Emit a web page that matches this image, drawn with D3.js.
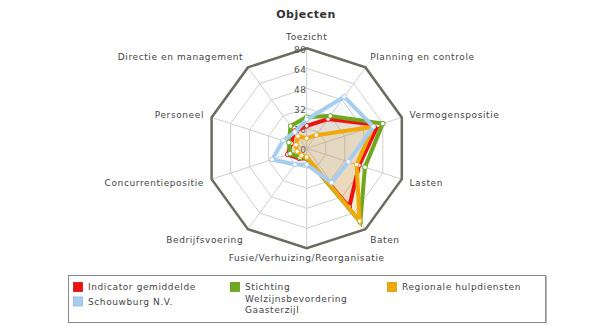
<!DOCTYPE html>
<html>
<head>
<meta charset="utf-8">
<script src="https://cdn.jsdelivr.net/npm/d3@7"></script>
<style>
html,body{margin:0;padding:0;background:#fff;}
svg{display:block;font-family:"DejaVu Sans",Verdana,sans-serif;}
</style>
</head>
<body>
<svg id="chart" width="613" height="336"></svg>
<script>
const title = "Objecten";
const categories = ["Toezicht","Planning en controle","Vermogenspositie","Lasten","Baten","Fusie/Verhuizing/Reorganisatie","Bedrijfsvoering","Concurrentiepositie","Personeel","Directie en management"];
const ringTicks = [0,16,32,48,64,80];
const seriesNames = ["Indicator gemiddelde","Stichting Welzijnsbevordering Gaasterzijl","Regionale hulpdiensten","Schouwburg N.V."];
const seriesColors = ["#ee1111","#6fa81c","#f0a80a","#a6cdf0"];
const indicator = [18, 29, 60, 44, 58, 8, 10, 16, 13, 17];
const stichting = [25, 32, 64, 49, 73, 8, 9, 14, 15, 22];
const regionale = [8, 13, 56, 42, 72, 7, 7, 8, 9, 12];
const schouwburg = [23, 51, 56, 35, 34, 13, 16, 29, 20, 16];
const seriesValues = [indicator, stichting, regionale, schouwburg];

const svg = d3.select("#chart");
const cx = 306.7, cy = 148.3, R = 100;
const n = categories.length;
const LS = 0.6;
const r = d3.scaleLinear().domain([0,80]).range([0,R]);
const ang = d3.scaleLinear().domain([0,n]).range([0,2*Math.PI]);
const pt = (i,v) => [cx + r(v)*Math.sin(ang(i)), cy - r(v)*Math.cos(ang(i))];

svg.append("text").attr("x",306).attr("y",18).attr("text-anchor","middle")
  .attr("font-size",11).attr("font-weight","bold").attr("letter-spacing",0.5).attr("fill","#333").text(title);

const g = svg.append("g");
ringTicks.slice(1,-1).forEach(t=>{
  g.append("polygon").attr("points", d3.range(n).map(i=>pt(i,t).join(",")).join(" "))
   .attr("fill","none").attr("stroke","#cfcfcf").attr("stroke-width",1);
});
d3.range(n).forEach(i=>{
  const p = pt(i,80);
  g.append("line").attr("x1",cx).attr("y1",cy).attr("x2",p[0]).attr("y2",p[1])
   .attr("stroke","#cfcfcf").attr("stroke-width",1);
});
g.append("polygon").attr("points", d3.range(n).map(i=>pt(i,80).join(",")).join(" "))
 .attr("fill","none").attr("stroke","#6b6b5e").attr("stroke-width",2.5);
ringTicks.forEach(t=>{
  g.append("text").attr("x",cx).attr("y",cy - r(t)+2).attr("text-anchor","end")
   .attr("dominant-baseline","middle").attr("font-size",9).attr("letter-spacing",LS).attr("fill","#555").text(t);
});
categories.forEach((c,i)=>{
  const a = ang(i), s = Math.sin(a), co = Math.cos(a);
  const x = cx + (R+8)*s, y = cy - (R+8)*co;
  const anchor = s > 0.1 ? "start" : (s < -0.1 ? "end" : "middle");
  let dy;
  if (co > 0.95) dy = 0;
  else if (co > 0.5) dy = -1;
  else if (co > 0) dy = 3;
  else if (co > -0.5) dy = 4.5;
  else if (co > -0.95) dy = 7;
  else dy = 5;
  svg.append("text").attr("x",x).attr("y",y+dy).attr("text-anchor",anchor)
   .attr("font-size",9).attr("letter-spacing",LS).attr("fill","#444").text(c);
});

const line = d3.lineRadial().angle((d,i)=>ang(i)).radius(d=>r(d)).curve(d3.curveLinearClosed);
const dg = svg.append("g").attr("transform",`translate(${cx},${cy})`);
seriesValues.forEach((vals,k)=>{
  dg.append("path").attr("d", line(vals)).attr("fill",seriesColors[k]).attr("fill-opacity",0.1)
    .attr("stroke","none");
});
seriesValues.forEach((vals,k)=>{
  dg.append("path").attr("d", line(vals)).attr("fill","none")
    .attr("stroke",seriesColors[k]).attr("stroke-width",4).attr("stroke-linejoin","miter");
  vals.forEach((v,i)=>{
    dg.append("circle").attr("cx", r(v)*Math.sin(ang(i))).attr("cy", -r(v)*Math.cos(ang(i)))
      .attr("r",2.3).attr("fill","#fff").attr("stroke",seriesColors[k]).attr("stroke-width",1);
  });
});

const lg = svg.append("g");
lg.append("rect").attr("x",68.5).attr("y",275.5).attr("width",477).attr("height",47)
  .attr("fill","#fff").attr("stroke","#8a8a8a").attr("stroke-width",1);
lg.append("line").attr("x1",546.5).attr("y1",276).attr("x2",546.5).attr("y2",323.5).attr("stroke","#bbb");
const colX = [73, 230, 387];
const rowY = [282, 296.5];
const wrapW = 135;
function wrapText(txt){
  const words = txt.split(" "); const lines=[]; let cur="";
  const tmp = svg.append("text").attr("font-size",9).attr("letter-spacing",LS);
  words.forEach(w=>{
    const test = cur ? cur+" "+w : w;
    tmp.text(test);
    if (tmp.node().getComputedTextLength() > wrapW && cur){ lines.push(cur); cur=w; } else cur=test;
  });
  lines.push(cur); tmp.remove(); return lines;
}
seriesNames.forEach((nm,k)=>{
  const col = k % 3, row = Math.floor(k/3);
  const x = colX[col], y = rowY[row];
  lg.append("rect").attr("x",x+0.5).attr("y",y+0.5).attr("width",9).attr("height",9)
    .attr("fill",seriesColors[k]).attr("stroke", d3.color(seriesColors[k]).darker(0.3)).attr("stroke-width",0.8);
  const t = lg.append("text").attr("x",x+15).attr("y",y+8).attr("font-size",9).attr("letter-spacing",LS).attr("fill","#444");
  wrapText(nm).forEach((l,j)=>{
    t.append("tspan").attr("x",x+15).attr("dy", j===0?0:11.7).text(l);
  });
});
</script>
</body>
</html>
